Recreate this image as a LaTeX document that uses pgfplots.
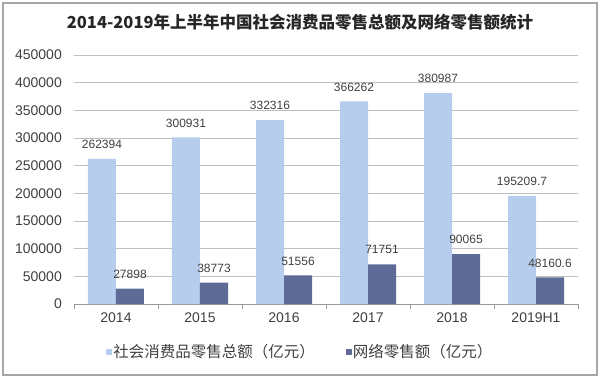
\documentclass[border=0pt]{standalone}
\usepackage{pgfplots}
\pgfplotsset{compat=1.18}
\usepackage{fontspec}
\setmainfont{Liberation Sans}
\newfontfamily\cjk{Noto Sans CJK SC}
\definecolor{lightbar}{RGB}{182,205,237}
\definecolor{darkbar}{RGB}{94,107,150}
\definecolor{txt}{RGB}{64,64,64}
\begin{document}
\begin{tikzpicture}
\begin{axis}[
 scale only axis, width=504pt, height=249pt,
 ymin=0, ymax=450000, ytick={0,50000,100000,150000,200000,250000,300000,350000,400000,450000},
 yticklabels={0,50000,100000,150000,200000,250000,300000,350000,400000,450000},
 xmin=-0.5, xmax=5.5,
 xtick={0,1,2,3,4,5}, xticklabels={2014,2015,2016,2017,2018,2019H1},
 ybar=0pt, bar width=28pt,
 axis x line*=bottom, axis y line*=left,
 y axis line style={draw=none},
 x axis line style={draw=black!40, line width=0.8pt},
 ymajorgrids, grid style={black!25, line width=0.8pt},
 major tick length=0pt,
 extra x ticks={-0.5,0.5,1.5,2.5,3.5,4.5,5.5}, extra x tick labels={,,,,,,},
 extra x tick style={major tick length=5pt, tick align=outside, tick style={draw=black!40, line width=0.8pt}, grid=none},
 scaled y ticks=false,
 yticklabel style={inner sep=0pt, xshift=-12pt, anchor=east},
 xticklabel style={inner sep=0pt, yshift=-9pt, anchor=north},
 ticklabel style={font=\fontsize{14}{16}\selectfont, text=txt},
 nodes near coords={\pgfplotspointmeta},
 point meta=explicit symbolic,
 every node near coord/.append style={font=\fontsize{12}{14}\selectfont, text=txt, inner sep=0pt, yshift=10pt, anchor=south},
 legend style={at={(0.448,-0.193)}, anchor=center, draw=none, fill=none, legend columns=2,
   font=\cjk\fontsize{15.5}{17}\selectfont, text=txt, nodes={inner sep=1pt},
   /tikz/every even column/.append style={column sep=30pt}},
 legend image code/.code={\path[#1, draw=none] (0pt,-3pt) rectangle (6pt,3pt);},
]
\addplot[fill=lightbar, draw=none] coordinates {(0,262394)[262394] (1,300931)[300931] (2,332316)[332316] (3,366262)[366262] (4,380987)[380987] (5,195209.7)[195209.7]};
\addplot[fill=darkbar, draw=none] coordinates {(0,27898)[27898] (1,38773)[38773] (2,51556)[51556] (3,71751)[71751] (4,90065)[90065] (5,48160.6)[48160.6]};
\legend{社会消费品零售总额（亿元）, 网络零售额（亿元）}
\coordinate (O) at (rel axis cs:0,0);
\end{axis}
\pgfresetboundingbox
\begin{scope}[shift={(O)}, x=1pt, y=1pt]
\path (-74,-74) rectangle (526,304);
\draw[black!35, line width=2pt] (-71,-71) rectangle (523,301);
\node[font=\cjk\bfseries\fontsize{16.5}{18}\selectfont, text=black!85] at (226,282) {2014-2019年上半年中国社会消费品零售总额及网络零售额统计};
\end{scope}
\end{tikzpicture}
\end{document}
